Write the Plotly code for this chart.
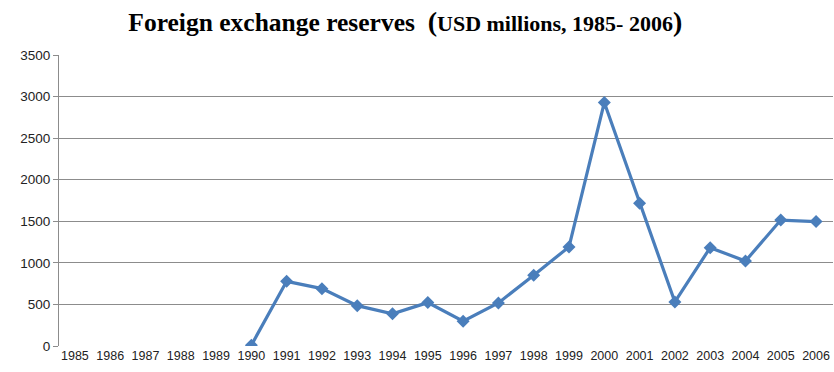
import plotly.graph_objects as go

years = [str(y) for y in range(1985, 2007)]
reserves = [None, None, None, None, None, 10, 778, 690, 485, 388, 522, 298, 518, 852, 1192,
            2928, 1718, 530, 1183, 1022, 1515, 1497]
y_ticks = [0, 500, 1000, 1500, 2000, 2500, 3000, 3500]

fig = go.Figure()
fig.add_trace(go.Scatter(
    x=years, y=reserves, mode="lines+markers",
    line=dict(color="#4A7EBB", width=3.2),
    marker=dict(symbol="diamond", size=10, color="#4A7EBB"),
    connectgaps=False, showlegend=False,
))

title = ("<b>Foreign exchange reserves  </b>"
         "<b><span style='font-size:28px'>(</span>"
         "<span style='font-size:22px'>USD millions, 1985- 2006</span>"
         "<span style='font-size:28px'>)</span></b>")

fig.update_layout(
    width=834, height=372,
    margin=dict(l=59, r=1, t=55, b=26),
    paper_bgcolor="white", plot_bgcolor="white",
    title=dict(text=title, x=0.486, xanchor="center", y=0.94, yanchor="middle",
               font=dict(family="Liberation Serif", size=25.5, color="black")),
    font=dict(family="Liberation Sans", size=12.5, color="#222"),
    xaxis=dict(type="category", categoryorder="array", categoryarray=years,
               showgrid=False, showline=False, ticks="", tickfont=dict(size=12.5),
               range=[-0.45, 21.48]),
    yaxis=dict(range=[0, 3500], tickvals=y_ticks, showgrid=True, gridcolor="#8C8C8C",
               gridwidth=1, showline=True, linecolor="#8C8C8C", linewidth=1,
               ticks="outside", ticklen=5, tickcolor="#8C8C8C", zeroline=False,
               tickfont=dict(size=13.5)),
)

fig.write_html(
    "out.html",
    config={"displayModeBar": False},
    post_script="document.body.style.margin='0';document.body.style.overflow='hidden';",
)
